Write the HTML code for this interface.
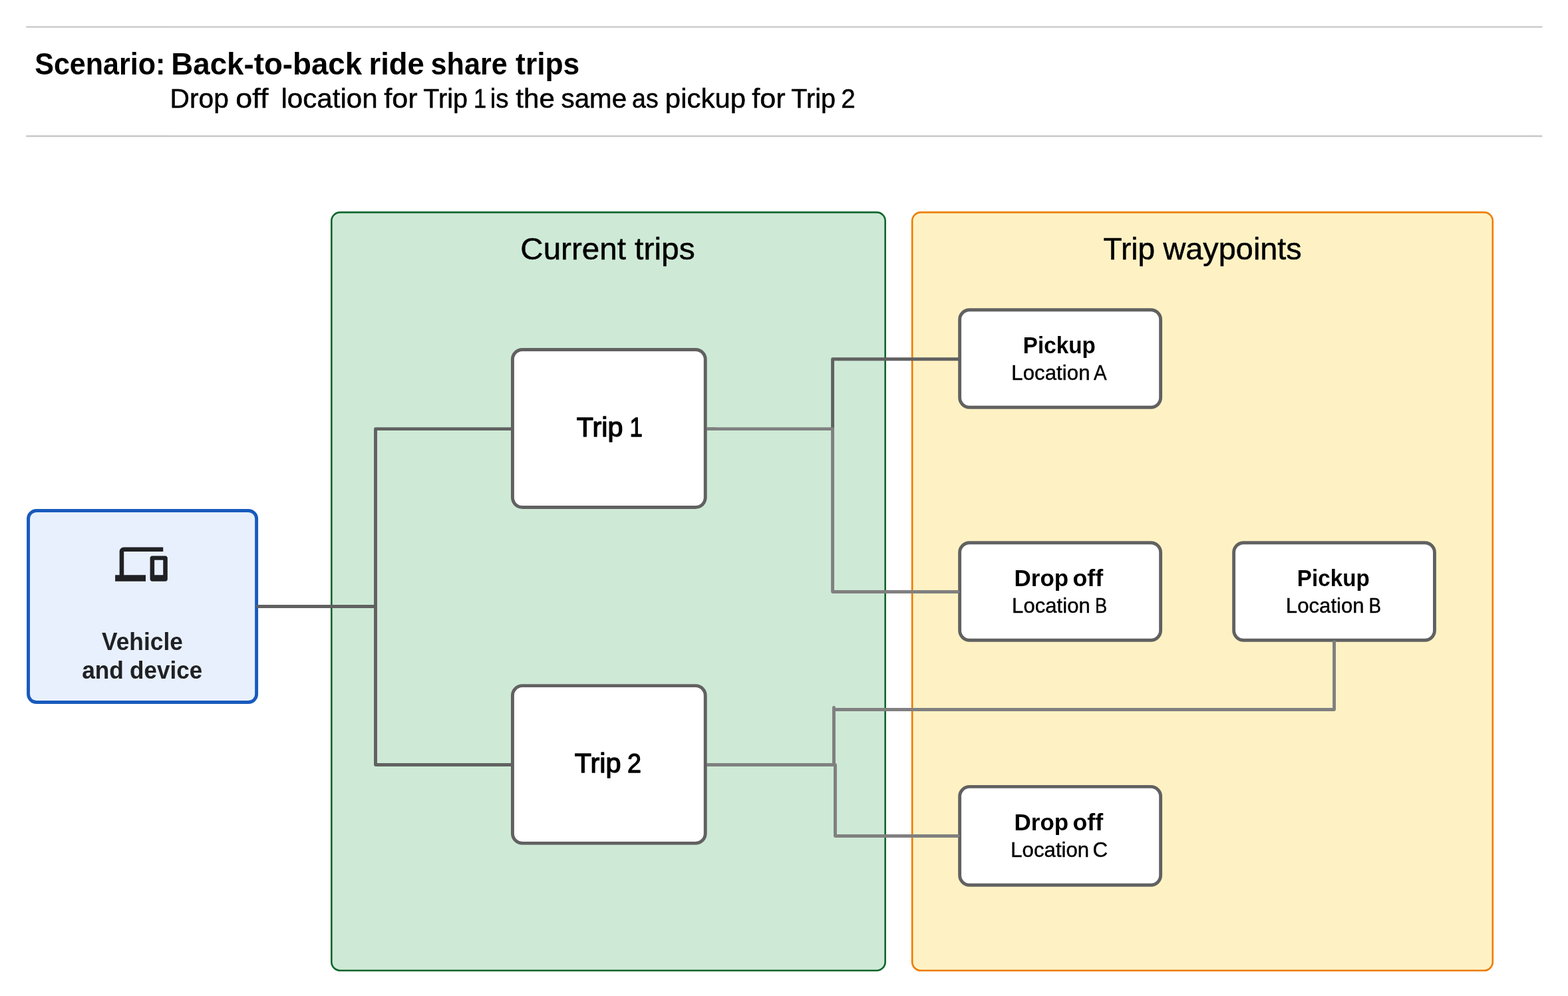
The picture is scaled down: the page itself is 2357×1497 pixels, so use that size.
<!DOCTYPE html>
<html lang="en">
<head>
<meta charset="utf-8">
<title>Scenario: Back-to-back ride share trips</title>
<style>
html,body{margin:0;padding:0;background:#fff;}
body{width:2357px;height:1497px;overflow:hidden;}
svg{display:block;}
text{font-family:"Liberation Sans", sans-serif;white-space:pre;}
</style>
</head>
<body>
<svg width="2357" height="1497" viewBox="0 0 2357 1497" role="img" aria-label="Back-to-back ride share trips diagram">
<rect width="2357" height="1497" fill="#ffffff"/>
<g fill="none" stroke="#cccccc" stroke-width="2.7" stroke-linecap="round"><path d="M40.4 40.5H2317.3"/><path d="M40.4 204.65H2317.3"/></g>
<rect x="498.3" y="319.1" width="832.4" height="1139.6" rx="13" fill="#ceead6" stroke="#0d652d" stroke-width="2.6"/>
<rect x="1371.2" y="319.1" width="872.6" height="1139.7" rx="13" fill="#fef2c4" stroke="#ee7d00" stroke-width="2.6"/>
<rect x="42.55" y="767.45" width="343.07" height="288.1" rx="12.3" fill="#e8f0fe" stroke="#185abc" stroke-width="4.9"/>
<g fill="none" stroke-width="4.9" stroke-linecap="round" stroke-linejoin="round">
<path stroke="#616161" d="M387.6 911.55H564.5V644.6H768M564.5 911.55V1149.5H768"/>
<path stroke="#616161" d="M1251.6 644.6V539.7H1442.5"/>
<path stroke="#808080" d="M1062.5 644.6H1251.6V889.5H1440"/>
<path stroke="#808080" d="M1253.5 1149.5V1063.5M1253.5 1066.5H2005.55V965"/>
<path stroke="#808080" d="M1062.5 1149.5H1255.5V1256.5H1440"/>
</g>
<rect x="770.45" y="525.45" width="289.8" height="237.1" rx="14.7" fill="#ffffff" stroke="#616161" stroke-width="4.9"/>
<rect x="770.45" y="1030.65" width="289.8" height="236.7" rx="14.7" fill="#ffffff" stroke="#616161" stroke-width="4.9"/>
<rect x="1442.65" y="465.75" width="302" height="146.5" rx="14.7" fill="#ffffff" stroke="#616161" stroke-width="4.9"/>
<rect x="1442.65" y="815.75" width="302" height="146.5" rx="14.7" fill="#ffffff" stroke="#616161" stroke-width="4.9"/>
<rect x="1854.65" y="815.75" width="301.8" height="146.5" rx="14.7" fill="#ffffff" stroke="#616161" stroke-width="4.9"/>
<rect x="1442.65" y="1182.35" width="302" height="147.95" rx="14.7" fill="#ffffff" stroke="#616161" stroke-width="4.9"/>
<g fill="none" stroke="#808080" stroke-width="4.9" stroke-linecap="round"><path d="M1430 889.5H1440M1430 1256.5H1440M2005.55 975V965M1075 644.6H1064.6M1075 1149.5H1064.6"/></g>
<path transform="translate(173.1 809.8) scale(3.28 3.2)" fill="#202124" d="M4 6h18V4H4c-1.1 0-2 .9-2 2v11H0v3h14v-3H4V6zm19 2h-6c-.55 0-1 .45-1 1v10c0 .55.45 1 1 1h6c.55 0 1-.45 1-1V9c0-.55-.45-1-1-1zm-1 9h-4v-7h4v7z"/>
<g style="will-change:opacity">
<text y="112.2" font-size="45.79" font-weight="700" fill="#000"><tspan x="52.23" textLength="196.15" lengthAdjust="spacingAndGlyphs">Scenario:</tspan> <tspan x="257.24" textLength="286.97" lengthAdjust="spacingAndGlyphs">Back-to-back</tspan> <tspan x="554.46" textLength="83.37" lengthAdjust="spacingAndGlyphs">ride</tspan> <tspan x="647.55" textLength="115.12" lengthAdjust="spacingAndGlyphs">share</tspan> <tspan x="775.1" textLength="96.2" lengthAdjust="spacingAndGlyphs">trips</tspan></text>
<text y="162.2" font-size="40.17" font-weight="400" fill="#000" stroke="#000" stroke-width="0.5" stroke-linejoin="round"><tspan x="255.57" textLength="88.34" lengthAdjust="spacingAndGlyphs">Drop</tspan> <tspan x="354.35" textLength="49.05" lengthAdjust="spacingAndGlyphs">off</tspan>  <tspan x="422.42" textLength="145.2" lengthAdjust="spacingAndGlyphs">location</tspan> <tspan x="577.25" textLength="50.31" lengthAdjust="spacingAndGlyphs">for</tspan> <tspan x="636.33" textLength="66.62" lengthAdjust="spacingAndGlyphs">Trip</tspan> <tspan x="712.01" textLength="19.21" lengthAdjust="spacingAndGlyphs">1</tspan> <tspan x="736.73" textLength="27.93" lengthAdjust="spacingAndGlyphs">is</tspan> <tspan x="775.35" textLength="58.51" lengthAdjust="spacingAndGlyphs">the</tspan> <tspan x="843.52" textLength="98.56" lengthAdjust="spacingAndGlyphs">same</tspan> <tspan x="950.08" textLength="39.65" lengthAdjust="spacingAndGlyphs">as</tspan> <tspan x="999.83" textLength="121.22" lengthAdjust="spacingAndGlyphs">pickup</tspan> <tspan x="1130.35" textLength="50.31" lengthAdjust="spacingAndGlyphs">for</tspan> <tspan x="1189.33" textLength="66.83" lengthAdjust="spacingAndGlyphs">Trip</tspan> <tspan x="1264.13" textLength="21.59" lengthAdjust="spacingAndGlyphs">2</tspan></text>
<text y="389.9" font-size="45.65" font-weight="400" fill="#000" stroke="#000" stroke-width="0.5" stroke-linejoin="round"><tspan x="782.32" textLength="158.57" lengthAdjust="spacingAndGlyphs">Current</tspan> <tspan x="954.05" textLength="90.8" lengthAdjust="spacingAndGlyphs">trips</tspan></text>
<text y="389.9" font-size="45.65" font-weight="400" fill="#000" stroke="#000" stroke-width="0.5" stroke-linejoin="round"><tspan x="1658.53" textLength="77.69" lengthAdjust="spacingAndGlyphs">Trip</tspan> <tspan x="1748.48" textLength="208.33" lengthAdjust="spacingAndGlyphs">waypoints</tspan></text>
<text y="655.9" font-size="40.59" font-weight="400" fill="#000" stroke="#000" stroke-width="1.3" stroke-linejoin="round"><tspan x="866.8" textLength="69.62" lengthAdjust="spacingAndGlyphs">Trip</tspan> <tspan x="946.61" textLength="19.41" lengthAdjust="spacingAndGlyphs">1</tspan></text>
<text y="1160.9" font-size="40.59" font-weight="400" fill="#000" stroke="#000" stroke-width="1.3" stroke-linejoin="round"><tspan x="863.8" textLength="69.72" lengthAdjust="spacingAndGlyphs">Trip</tspan> <tspan x="942.98" textLength="21" lengthAdjust="spacingAndGlyphs">2</tspan></text>
<text y="531.3" font-size="35.81" font-weight="700" fill="#000"><tspan x="1537.72" textLength="109.07" lengthAdjust="spacingAndGlyphs">Pickup</tspan></text>
<text y="571.3" font-size="30.76" font-weight="400" fill="#000" stroke="#000" stroke-width="0.4" stroke-linejoin="round"><tspan x="1520.26" textLength="118.3" lengthAdjust="spacingAndGlyphs">Location</tspan> <tspan x="1644" textLength="19.66" lengthAdjust="spacingAndGlyphs">A</tspan></text>
<text y="881.3" font-size="35.81" font-weight="700" fill="#000"><tspan x="1524.41" textLength="81.84" lengthAdjust="spacingAndGlyphs">Drop</tspan> <tspan x="1612.38" textLength="45.94" lengthAdjust="spacingAndGlyphs">off</tspan></text>
<text y="921.3" font-size="30.76" font-weight="400" fill="#000" stroke="#000" stroke-width="0.4" stroke-linejoin="round"><tspan x="1521.07" textLength="117.78" lengthAdjust="spacingAndGlyphs">Location</tspan> <tspan x="1646.07" textLength="18.17" lengthAdjust="spacingAndGlyphs">B</tspan></text>
<text y="881.3" font-size="35.81" font-weight="700" fill="#000"><tspan x="1949.82" textLength="108.96" lengthAdjust="spacingAndGlyphs">Pickup</tspan></text>
<text y="921.3" font-size="30.76" font-weight="400" fill="#000" stroke="#000" stroke-width="0.4" stroke-linejoin="round"><tspan x="1932.87" textLength="117.78" lengthAdjust="spacingAndGlyphs">Location</tspan> <tspan x="2057.53" textLength="18.54" lengthAdjust="spacingAndGlyphs">B</tspan></text>
<text y="1248.3" font-size="35.81" font-weight="700" fill="#000"><tspan x="1524.41" textLength="81.84" lengthAdjust="spacingAndGlyphs">Drop</tspan> <tspan x="1612.38" textLength="45.94" lengthAdjust="spacingAndGlyphs">off</tspan></text>
<text y="1288.2" font-size="30.76" font-weight="400" fill="#000" stroke="#000" stroke-width="0.4" stroke-linejoin="round"><tspan x="1519.16" textLength="118.09" lengthAdjust="spacingAndGlyphs">Location</tspan> <tspan x="1642.42" textLength="22.77" lengthAdjust="spacingAndGlyphs">C</tspan></text>
<text y="976.8" font-size="36.5" font-weight="700" fill="#202124"><tspan x="153" textLength="121.88" lengthAdjust="spacingAndGlyphs">Vehicle</tspan></text>
<text y="1019.6" font-size="36.5" font-weight="700" fill="#202124"><tspan x="123.15" textLength="62.81" lengthAdjust="spacingAndGlyphs">and</tspan> <tspan x="195" textLength="109.13" lengthAdjust="spacingAndGlyphs">device</tspan></text>
</g>
</svg>
</body>
</html>
